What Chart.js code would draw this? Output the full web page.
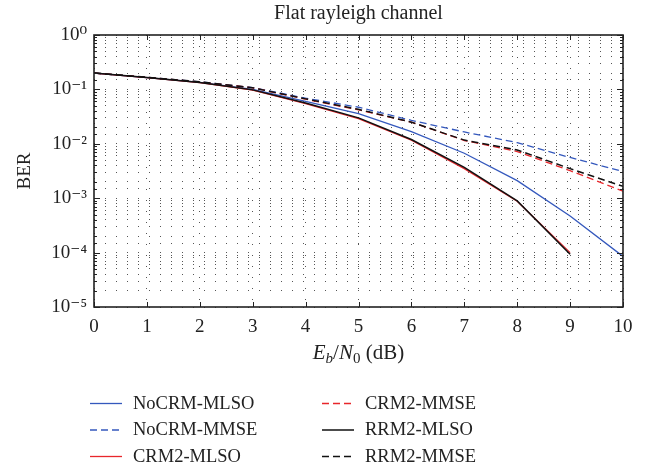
<!DOCTYPE html>
<html>
<head>
<meta charset="utf-8">
<script src="https://cdn.jsdelivr.net/npm/chart.js@4/dist/chart.umd.min.js"></script>
<style>
	html, body { margin: 0; padding: 0; background: #fff; }
	canvas { display: block; }
</style>
</head>
<body>
<canvas id="berChart" width="653" height="465"></canvas>
<script>
// Eb/N0 in dB
const snr = [0, 1, 2, 3, 4, 5, 6, 7, 8, 9, 10];

// BER curves
const noCrmMlso = [0.2, 0.165, 0.135, 0.1, 0.06, 0.036, 0.0167, 0.0067, 0.0021, 0.00047, 0.000085];
const noCrmMmse = [0.2, 0.167, 0.138, 0.108, 0.069, 0.047, 0.027, 0.0165, 0.0105, 0.0056, 0.0031];
const crm2Mlso = [0.2, 0.165, 0.133, 0.097, 0.055, 0.029, 0.0117, 0.0035, 0.00088, 0.0001, null];
const crm2Mmse = [0.2, 0.167, 0.137, 0.107, 0.066, 0.042, 0.025, 0.0115, 0.0072, 0.0032, 0.00135];
const rrm2Mlso = [0.2, 0.165, 0.134, 0.098, 0.056, 0.03, 0.012, 0.0037, 0.00089, 0.000093, null];
const rrm2Mmse = [0.2, 0.167, 0.138, 0.107, 0.067, 0.043, 0.025, 0.0117, 0.0077, 0.0035, 0.00165];

const seriesNames = ['NoCRM-MLSO', 'NoCRM-MMSE', 'CRM2-MLSO', 'CRM2-MMSE', 'RRM2-MLSO', 'RRM2-MMSE'];
const xTicks = [0, 1, 2, 3, 4, 5, 6, 7, 8, 9, 10];
const yTickLabels = ['10⁰', '10⁻¹', '10⁻²', '10⁻³', '10⁻⁴', '10⁻⁵'];

const BLUE = '#3458bd';
const RED = '#e8262b';
const BLACK = '#111';
const SERIF = '"Liberation Serif", "DejaVu Serif", serif';

const seriesValues = [noCrmMlso, noCrmMmse, crm2Mlso, crm2Mmse, rrm2Mlso, rrm2Mmse];
const seriesColors = [BLUE, BLUE, RED, RED, BLACK, BLACK];
const seriesDashed = [false, true, false, true, false, true];

const datasets = seriesNames.map((name, i) => ({
	label: name,
	data: snr.map((x, j) => ({ x: x, y: seriesValues[i][j] })),
	borderColor: seriesColors[i],
	borderWidth: seriesColors[i] === BLACK ? 1.5 : 1.3,
	borderDash: seriesDashed[i] ? [7, 4] : [],
	pointRadius: 0,
	fill: false,
	tension: 0,
	order: seriesNames.length - i
}));

function isDecade(v) {
	const e = Math.log10(v);
	return Math.abs(e - Math.round(e)) < 1e-9;
}

// frame, inward ticks, x title and legend
const decorations = {
	id: 'decorations',
	afterDraw(chart) {
		const ctx = chart.ctx;
		const area = chart.chartArea;
		const xs = chart.scales.x;
		const ys = chart.scales.y;
		ctx.save();
		ctx.strokeStyle = '#222';
		ctx.lineWidth = 1;
		ctx.setLineDash([]);
		ctx.beginPath();
		xs.ticks.forEach(t => {
			const px = Math.round(xs.getPixelForValue(t.value)) + 0.5;
			ctx.moveTo(px, area.bottom); ctx.lineTo(px, area.bottom - 5);
			ctx.moveTo(px, area.top); ctx.lineTo(px, area.top + 5);
		});
		ys.ticks.forEach(t => {
			const py = Math.round(ys.getPixelForValue(t.value)) + 0.5;
			const len = isDecade(t.value) ? 6 : 3;
			ctx.moveTo(area.left, py); ctx.lineTo(area.left + len, py);
			ctx.moveTo(area.right, py); ctx.lineTo(area.right - len, py);
		});
		ctx.stroke();
		ctx.lineWidth = 1.6;
		ctx.strokeRect(area.left, area.top, area.right - area.left, area.bottom - area.top);

		// x axis title: Eb/N0 (dB)
		const parts = [
			{ t: 'E', f: 'italic 21px ' + SERIF, dy: 0 },
			{ t: 'b', f: 'italic 15px ' + SERIF, dy: 4 },
			{ t: '/', f: '21px ' + SERIF, dy: 0 },
			{ t: 'N', f: 'italic 21px ' + SERIF, dy: 0 },
			{ t: '0', f: '15px ' + SERIF, dy: 4 },
			{ t: ' (dB)', f: '21px ' + SERIF, dy: 0 }
		];
		let total = 0;
		parts.forEach(p => { ctx.font = p.f; p.w = ctx.measureText(p.t).width; total += p.w; });
		let cx = (area.left + area.right) / 2 - total / 2;
		const baseY = 359;
		ctx.fillStyle = '#222';
		ctx.textBaseline = 'alphabetic';
		ctx.textAlign = 'left';
		parts.forEach(p => {
			ctx.font = p.f;
			ctx.fillText(p.t, cx, baseY + p.dy);
			cx += p.w;
		});

		// legend in two columns
		ctx.font = '18.5px ' + SERIF;
		ctx.textBaseline = 'middle';
		chart.data.datasets.forEach((ds, i) => {
			const col = i < 3 ? 0 : 1;
			const row = i % 3;
			const lx = col === 0 ? 90 : 322;
			const ly = 403 + row * 26.5;
			ctx.strokeStyle = ds.borderColor;
			ctx.lineWidth = ds.borderWidth;
			ctx.setLineDash(ds.borderDash);
			ctx.beginPath();
			ctx.moveTo(lx, ly + 0.5);
			ctx.lineTo(lx + 32, ly + 0.5);
			ctx.stroke();
			ctx.setLineDash([]);
			ctx.fillStyle = '#222';
			ctx.fillText(ds.label, lx + 43, ly + 1);
		});
		ctx.restore();
	}
};

const ctx = document.getElementById('berChart').getContext('2d');
new Chart(ctx, {
	type: 'line',
	data: { datasets: datasets },
	options: {
		responsive: false,
		animation: false,
		layout: { padding: { left: 14, right: 30, top: 0, bottom: 0 } },
		plugins: {
			legend: { display: false },
			tooltip: { enabled: false },
			title: {
				display: true,
				text: 'Flat rayleigh channel',
				fullSize: false,
				color: '#222',
				font: { family: SERIF, size: 20, weight: 'normal' },
				padding: { top: 2, bottom: 9 }
			}
		},
		scales: {
			x: {
				type: 'linear',
				min: 0,
				max: 10,
				afterBuildTicks: scale => { scale.ticks = xTicks.map(v => ({ value: v })); },
				afterFit: scale => { scale.height = 158; },
				grid: { color: '#555', lineWidth: 1, drawTicks: false },
				border: { display: false, dash: [1, 10] },
				ticks: {
					color: '#222',
					padding: 9,
					font: { family: SERIF, size: 19 },
					maxRotation: 0,
					autoSkip: false
				}
			},
			y: {
				type: 'logarithmic',
				min: 1e-5,
				max: 1,
				afterFit: scale => { scale.width = 80; },
				grid: { color: '#555', lineWidth: 1, drawTicks: false },
				border: { display: false, dash: [1, 10] },
				title: {
					display: true,
					text: 'BER',
					color: '#222',
					font: { family: SERIF, size: 19 },
					padding: { top: 0, bottom: 0 }
				},
				ticks: {
					color: '#222',
					padding: 7,
					autoSkip: false,
					font: { family: SERIF, size: 19 },
					callback: v => isDecade(v) ? yTickLabels[Math.round(-Math.log10(v))] : ''
				}
			}
		}
	},
	plugins: [decorations]
});
</script>
</body>
</html>
